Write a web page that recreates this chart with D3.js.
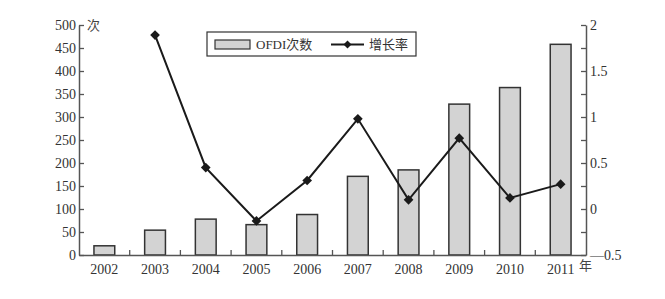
<!DOCTYPE html>
<html>
<head>
<meta charset="utf-8">
<script src="https://cdn.jsdelivr.net/npm/d3@7"></script>
<style>
  body { margin: 0; background: #fff; }
  text { font-family: "Liberation Serif", "DejaVu Serif", "Noto Sans CJK SC", serif; fill: #333; }
</style>
</head>
<body>
<div id="chart"></div>
<script>
// data
const years = ['2002', '2003', '2004', '2005', '2006', '2007', '2008', '2009', '2010', '2011'];
const ofdiCount = [20, 54, 78, 66, 88, 171, 185, 328, 364, 458];
const growthRate = [null, 1.89, 0.45, -0.13, 0.31, 0.98, 0.10, 0.77, 0.12, 0.27];
const leftTicks = [0, 50, 100, 150, 200, 250, 300, 350, 400, 450, 500];
const rightTicks = [-0.5, -0.25, 0, 0.25, 0.5, 0.75, 1, 1.25, 1.5, 1.75, 2];

const width = 665, height = 299;
const margin = { top: 25, right: 79, bottom: 44, left: 79 };

const svg = d3.select('#chart').append('svg')
  .attr('width', width)
  .attr('height', height);

const x = d3.scaleBand()
  .domain(years)
  .range([margin.left, width - margin.right])
  .paddingInner(0.59)
  .paddingOuter(0.295);

const yL = d3.scaleLinear().domain([0, 500]).range([height - margin.bottom, margin.top]);
const yR = d3.scaleLinear().domain([-0.5, 2]).range([height - margin.bottom, margin.top]);

// bars
svg.selectAll('rect.bar')
  .data(years)
  .enter().append('rect')
  .attr('class', 'bar')
  .attr('x', d => x(d))
  .attr('y', (d, i) => yL(ofdiCount[i]))
  .attr('width', x.bandwidth())
  .attr('height', (d, i) => yL(0) - yL(ofdiCount[i]))
  .style('fill', '#d3d3d3')
  .style('stroke', '#333')
  .style('stroke-width', 1.5);

// growth line
const pts = years.map((d, i) => ({ year: d, v: growthRate[i] })).filter(d => d.v !== null);
const line = d3.line()
  .x(d => x(d.year) + x.bandwidth() / 2)
  .y(d => yR(d.v));

svg.append('path')
  .datum(pts)
  .attr('d', line)
  .style('fill', 'none')
  .style('stroke', '#1a1a1a')
  .style('stroke-width', 2);

svg.selectAll('path.mk')
  .data(pts)
  .enter().append('path')
  .attr('class', 'mk')
  .attr('d', d3.symbol().type(d3.symbolDiamond2).size(60))
  .attr('transform', d => `translate(${x(d.year) + x.bandwidth() / 2},${yR(d.v)})`)
  .style('fill', '#1a1a1a');

// axes
const axisColor = '#555';
const gL = svg.append('g')
  .attr('transform', `translate(${margin.left},0)`)
  .call(d3.axisLeft(yL).tickValues(leftTicks).tickSizeInner(-5).tickSizeOuter(0).tickPadding(3));

const gR = svg.append('g')
  .attr('transform', `translate(${width - margin.right},0)`)
  .call(d3.axisRight(yR).tickValues(rightTicks).tickSizeInner(-5).tickSizeOuter(0).tickPadding(4)
    .tickFormat(d => (d * 2) % 1 === 0 ? (d < 0 ? '\u2014' + Math.abs(d) : d) : ''));

const xBottom = height - margin.bottom;
const gX = svg.append('g')
  .attr('transform', `translate(0,${xBottom})`)
  .call(d3.axisBottom(x).tickSize(0).tickPadding(9));

// category separators
const step = x.step();
svg.selectAll('line.sep')
  .data(years.slice(1))
  .enter().append('line')
  .attr('class', 'sep')
  .attr('x1', d => x(d) - x.bandwidth() * 0.5 - (step - x.bandwidth()) / 2 + x.bandwidth() / 2)
  .attr('x2', d => x(d) - x.bandwidth() * 0.5 - (step - x.bandwidth()) / 2 + x.bandwidth() / 2)
  .attr('y1', xBottom)
  .attr('y2', xBottom - 5)
  .style('stroke', axisColor)
  .style('stroke-width', 1.3);

[gL, gR, gX].forEach(g => {
  g.selectAll('.domain').style('stroke', axisColor).style('stroke-width', 1.5);
  g.selectAll('.tick line').style('stroke', axisColor).style('stroke-width', 1.3);
  g.selectAll('text').style('font-size', '14px').style('fill', '#333')
    .style('font-family', '"Liberation Serif", "DejaVu Serif", serif');
});

// unit labels
svg.append('text')
  .attr('x', margin.left + 8)
  .attr('y', margin.top + 5)
  .style('font-size', '13px')
  .style('font-family', '"Noto Sans CJK SC", sans-serif')
  .style('fill', '#444')
  .text('次');

svg.append('text')
  .attr('x', width - margin.right - 7)
  .attr('y', xBottom + 15)
  .style('font-size', '13px')
  .style('font-family', '"Noto Sans CJK SC", sans-serif')
  .style('fill', '#444')
  .text('年');

// legend
const lg = svg.append('g').attr('transform', 'translate(207,32)');
lg.append('rect')
  .attr('width', 209).attr('height', 24)
  .style('fill', '#fff').style('stroke', '#333').style('stroke-width', 1.2);
lg.append('rect')
  .attr('x', 8).attr('y', 8).attr('width', 35).attr('height', 9)
  .style('fill', '#d3d3d3').style('stroke', '#333').style('stroke-width', 1.2);
lg.append('text')
  .attr('x', 49).attr('y', 17)
  .style('font-size', '13px')
  .style('font-family', '"Liberation Serif", "Noto Sans CJK SC", serif')
  .text('OFDI次数');
lg.append('line')
  .attr('x1', 124).attr('x2', 157).attr('y1', 12.5).attr('y2', 12.5)
  .style('stroke', '#1a1a1a').style('stroke-width', 2);
lg.append('path')
  .attr('d', d3.symbol().type(d3.symbolDiamond2).size(40))
  .attr('transform', 'translate(140.5,12.5)')
  .style('fill', '#1a1a1a');
lg.append('text')
  .attr('x', 162).attr('y', 17)
  .style('font-size', '13px')
  .style('font-family', '"Noto Sans CJK SC", sans-serif')
  .text('增长率');
</script>
</body>
</html>
